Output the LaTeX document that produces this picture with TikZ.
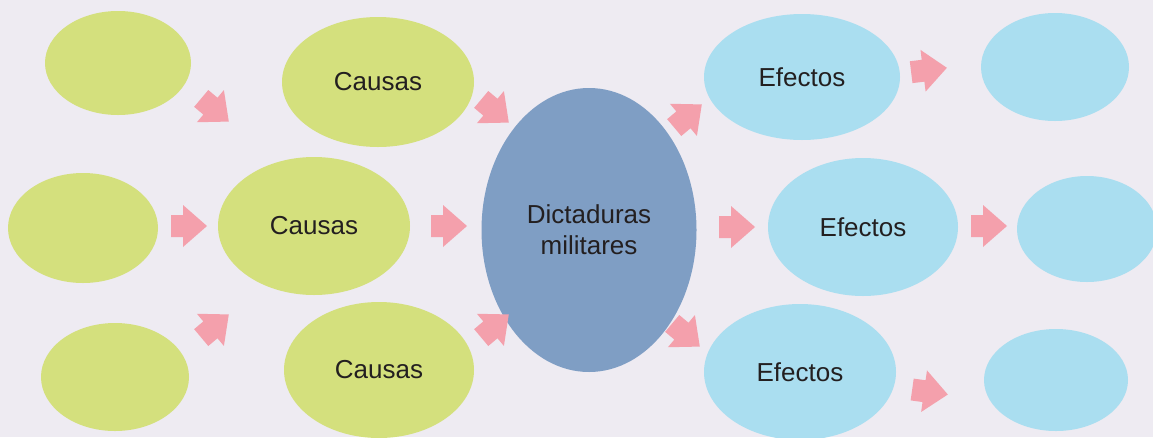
\documentclass[tikz,border=0pt]{standalone}
\usepackage{fontspec}
\setmainfont{Liberation Sans}
\usetikzlibrary{shapes.geometric}
\definecolor{bgc}{HTML}{EEEBF2}
\definecolor{greenc}{HTML}{D4E07D}
\definecolor{lblue}{HTML}{AADEF0}
\definecolor{dblue}{HTML}{7F9EC4}
\definecolor{pinkc}{HTML}{F4A0AC}
\definecolor{txt}{HTML}{231F20}
\tikzset{
  ell/.style={ellipse, inner sep=0pt, text=txt, font=\fontsize{26}{31}\selectfont, align=center},
  cause/.style={ell, fill=greenc},
  effect/.style={ell, fill=lblue},
  center/.style={ell, fill=dblue},
  barrow/.pic={\fill[pinkc] (-18,-11) -- (-6,-11) -- (-6,-21) -- (18,0) -- (-6,21) -- (-6,11) -- (-18,11) -- cycle;}
}
\begin{document}
\begin{tikzpicture}[x=1pt,y=-1pt]
\fill[bgc] (0,0) rectangle (1153,437);
\useasboundingbox (0,0) rectangle (1153,437);
\clip (0,0) rectangle (1153,437);
% causes
\node[cause, minimum width=146, minimum height=104] (c1) at (118,63) {};
\node[cause, minimum width=192, minimum height=130] (c2) at (378,82) {Causas};
\node[cause, minimum width=150, minimum height=110] (c3) at (83,228) {};
\node[cause, minimum width=192, minimum height=138] (c4) at (314,226) {Causas};
\node[cause, minimum width=148, minimum height=108] (c5) at (115,377) {};
\node[cause, minimum width=190, minimum height=136] (c6) at (379,370) {Causas};
% centre
\node[center, minimum width=215, minimum height=284] (d) at (589,230) {Dictaduras\\militares};
% effects
\node[effect, minimum width=196, minimum height=126] (e1) at (802,77) {Efectos};
\node[effect, minimum width=190, minimum height=138] (e2) at (863,227) {Efectos};
\node[effect, minimum width=192, minimum height=136] (e3) at (800,372) {Efectos};
\node[effect, minimum width=148, minimum height=108] (f1) at (1055,67) {};
\node[effect, minimum width=140, minimum height=106] (f2) at (1087,229) {};
\node[effect, minimum width=144, minimum height=102] (f3) at (1056,380) {};
% arrows
\pic[rotate=-40] at (215,110) {barrow};
\pic at (189,226) {barrow};
\pic[rotate=40] at (215,326) {barrow};
\pic[rotate=-40] at (495,111) {barrow};
\pic at (449,226) {barrow};
\pic[rotate=40] at (495,326) {barrow};
\pic[rotate=40] at (688,116) {barrow};
\pic at (737,227) {barrow};
\pic[rotate=-40] at (686,335) {barrow};
\pic[rotate=7] at (929,70) {barrow};
\pic at (989,226) {barrow};
\pic[rotate=-8] at (930,392) {barrow};
\end{tikzpicture}
\end{document}
